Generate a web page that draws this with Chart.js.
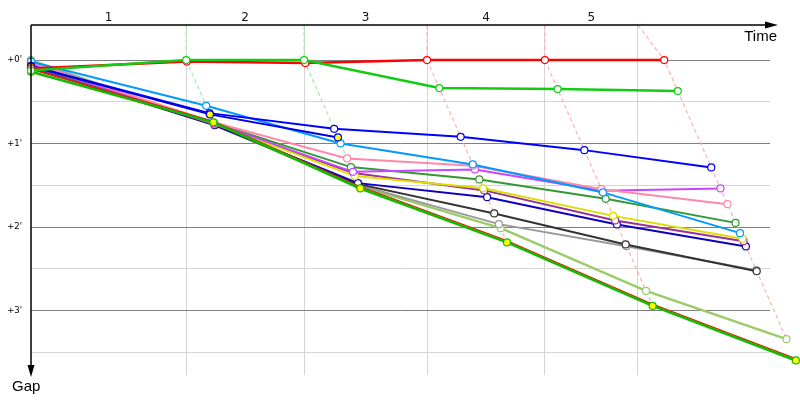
<!DOCTYPE html>
<html><head><meta charset="utf-8">
<script src="https://cdn.jsdelivr.net/npm/chart.js@4/dist/chart.umd.min.js"></script>
<style>html,body{margin:0;padding:0;background:#fff}#wrap{width:800px;height:400px;position:relative}</style>
</head><body><div id="wrap"><canvas id="c"></canvas></div>
<script>
// ---- data (time and gap in minutes) ----
const lapLabels = ['1', '2', '3', '4', '5'];
const lapGridTimes = [0, 4.24, 7.46, 10.82, 14.04, 16.58];     // lap boundaries on the time axis
const leaderLapTimes = [0, 4.24, 7.46, 10.82, 14.04, 17.30];   // leader crossing time, start..lap 5
const gapTicks = [0, 0.5, 1, 1.5, 2, 2.5, 3, 3.5];

// gaps to leader: start, lap1..lap5 (null = no data)
const gapsGreen      = [0.125, 0, 0, 0.335, 0.347, 0.371];
const gapsRed        = [0.10, 0.018, 0.036, 0, 0, 0];
const gapsBlue       = [0.07, 0.635, 0.823, 0.919, 1.078, 1.285];
const gapsBlueY      = [0.075, 0.650, 0.926, null, null, null];
const gapsLightBlue  = [0.02, 0.547, 0.998, 1.249, 1.584, 2.072];
const gapsPink       = [0.03, 0.745, 1.177, 1.265, 1.545, 1.725];
const gapsMagenta    = [0.05, 0.755, 1.338, 1.309, 1.565, 1.537];
const gapsForest     = [0.06, 0.75, 1.281, 1.429, 1.661, 1.949];
const gapsYellow     = [0.04, 0.76, 1.389, 1.535, 1.865, 2.138];
const gapsPurple     = [0.08, 0.77, 1.353, 1.560, 1.920, 2.168];
const gapsNavy       = [0.09, 0.775, 1.473, 1.641, 1.968, 2.231];
const gapsBlack      = [0.085, 0.78, 1.485, 1.836, 2.207, 2.527];
const gapsGray       = [0.01, 0.78, 1.497, 1.964, 2.228, 2.515];
const gapsLightGreen = [0.0, 0.775, 1.509, 2.012, 2.763, 3.341];
const gapsLimeYellow = [0.14, 0.745, 1.537, 2.183, 2.943, 3.596];
const gapsDarkRed    = [0.11, 0.733, 1.512, 2.158, 2.918, 3.571];

// ---- styles ----
const X_MIN = 0, X_MAX = 20.19, Y_MIN = -0.42, Y_MAX = 3.77;
const series = [
  {g: gapsGreen, c: '#11cc11', w: 2.5, f: '#fff'},
  {g: gapsRed, c: '#ff0000', w: 2.5, f: '#fff'},
  {g: gapsBlueY, c: '#0000e0', w: 2, f: '#ffff00'},
  {g: gapsBlue, c: '#0000ff', w: 2, f: '#fff'},
  {g: gapsLightBlue, c: '#0099ff', w: 2, f: '#fff'},
  {g: gapsLimeYellow, c: '#11bb00', w: 2.5, f: '#ffff00'},
  {g: gapsDarkRed, c: '#dd2200', w: 1.5, f: '#fff', noPts: true},
  {g: gapsPink, c: '#ff88aa', w: 2, f: '#fff'},
  {g: gapsMagenta, c: '#cc44ff', w: 2, f: '#fff'},
  {g: gapsForest, c: '#339933', w: 2, f: '#fff'},
  {g: gapsYellow, c: '#dddd00', w: 2, f: '#fff'},
  {g: gapsPurple, c: '#993399', w: 2, f: '#fff'},
  {g: gapsNavy, c: '#1100bb', w: 2, f: '#fff'},
  {g: gapsBlack, c: '#333333', w: 2, f: '#fff'},
  {g: gapsGray, c: '#999999', w: 2, f: '#fff'},
  {g: gapsLightGreen, c: '#99cc66', w: 2.5, f: '#fff'},
];
const lapLineColors = ['#a8e8a8', '#a8e8a8', '#ffb0b0', '#ffb0b0', '#ffb0b0'];

function pointsOf(gaps) {
  const pts = [];
  gaps.forEach((g, lap) => {
    if (g === null) return;
    pts.push({x: lap === 0 ? 0 : leaderLapTimes[lap] + g, y: g});
  });
  return pts;
}

const datasets = series.map(s => ({
  data: pointsOf(s.g),
  borderColor: s.c, borderWidth: s.w,
  pointRadius: s.noPts ? 0 : 3.5, pointBorderWidth: 1.2,
  pointBackgroundColor: s.f, pointBorderColor: s.c,
  tension: 0, clip: false, xAxisID: 'x', yAxisID: 'y'
}));

for (let lap = 1; lap <= 5; lap++) {
  const pts = series.filter(s => s.g[lap] !== null && !s.noPts)
    .map(s => ({x: leaderLapTimes[lap] + s.g[lap], y: s.g[lap]}))
    .sort((a, b) => a.y - b.y);
  pts.unshift({x: lapGridTimes[lap], y: Y_MIN});
  datasets.push({
    data: pts, borderColor: lapLineColors[lap - 1], borderWidth: 1.2,
    borderDash: [4, 3], pointRadius: 0, tension: 0, clip: false,
    xAxisID: 'x', yAxisID: 'y'
  });
}

const lapMids = lapLabels.map((_, i) => (lapGridTimes[i] + lapGridTimes[i + 1]) / 2);

// draw markers that sit beyond the plot area (the library skips them otherwise)
const outerPoints = {
  id: 'outerPoints',
  afterDatasetsDraw(chart) {
    const a = chart.chartArea;
    const big = {left: 0, top: 0, right: chart.width, bottom: chart.height};
    chart.getSortedVisibleDatasetMetas().forEach(meta => {
      meta.data.forEach(pt => {
        if (pt.x > a.right || pt.y > a.bottom) pt.draw(chart.ctx, big);
      });
    });
  }
};

const axisArrows = {
  id: 'axisArrows',
  afterDraw(chart) {
    const {ctx, chartArea: a} = chart;
    ctx.save();
    ctx.strokeStyle = '#000'; ctx.fillStyle = '#000'; ctx.lineWidth = 1.5;
    ctx.beginPath();
    ctx.moveTo(a.left, a.top); ctx.lineTo(a.right + 1, a.top);
    ctx.moveTo(a.left, a.top); ctx.lineTo(a.left, a.bottom - 4);
    ctx.stroke();
    ctx.beginPath();
    ctx.moveTo(a.right + 8, a.top); ctx.lineTo(a.right - 5, a.top - 3.5); ctx.lineTo(a.right - 5, a.top + 3.5); ctx.closePath();
    ctx.fill();
    ctx.beginPath();
    ctx.moveTo(a.left, a.bottom + 2); ctx.lineTo(a.left - 3.5, a.bottom - 10); ctx.lineTo(a.left + 3.5, a.bottom - 10); ctx.closePath();
    ctx.fill();
    ctx.font = '15px "Liberation Sans", Arial, sans-serif';
    ctx.textAlign = 'right'; ctx.textBaseline = 'alphabetic';
    ctx.fillText('Time', a.right + 7, a.top + 16);
    ctx.textAlign = 'left';
    ctx.fillText('Gap', 12, a.bottom + 16);
    ctx.restore();
  }
};

new Chart(document.getElementById('c'), {
  type: 'line',
  data: {datasets},
  options: {
    responsive: true, maintainAspectRatio: false, animation: false,
    layout: {padding: {left: 0, top: 0, right: 30, bottom: 25}},
    plugins: {legend: {display: false}, tooltip: {enabled: false}},
    scales: {
      x: {
        type: 'linear', position: 'top', min: X_MIN, max: X_MAX, bounds: 'data',
        grid: {display: false, drawTicks: false}, border: {display: false},
        ticks: {padding: 0, maxRotation: 0, autoSkip: false, color: '#111',
          font: {family: 'DejaVu Sans', size: 12},
          callback: (v, i) => lapLabels[i]},
        afterBuildTicks: s => { s.ticks = lapMids.map(v => ({value: v})); },
        afterFit: s => { s.height = 25; }
      },
      x2: {
        type: 'linear', position: 'top', min: X_MIN, max: X_MAX, bounds: 'data',
        grid: {color: '#d4d4d4', drawTicks: false, lineWidth: 1}, border: {display: false},
        ticks: {display: false},
        afterBuildTicks: s => { s.ticks = lapGridTimes.slice(1).map(v => ({value: v})); },
        afterFit: s => { s.height = 0; }
      },
      y: {
        type: 'linear', position: 'left', reverse: true, min: Y_MIN, max: Y_MAX, bounds: 'data',
        grid: {drawTicks: false, lineWidth: 1,
          color: c => Number.isInteger(c.tick.value) ? '#808080' : '#d4d4d4'},
        border: {display: false},
        ticks: {padding: 9, autoSkip: false, color: '#000',
          font: {family: 'DejaVu Sans', size: 8.5},
          callback: v => Number.isInteger(v) ? "+" + v + "'" : ''},
        afterBuildTicks: s => { s.ticks = gapTicks.map(v => ({value: v})); },
        afterFit: s => { s.width = 31; }
      }
    }
  },
  plugins: [outerPoints, axisArrows]
});
</script>
</body></html>
